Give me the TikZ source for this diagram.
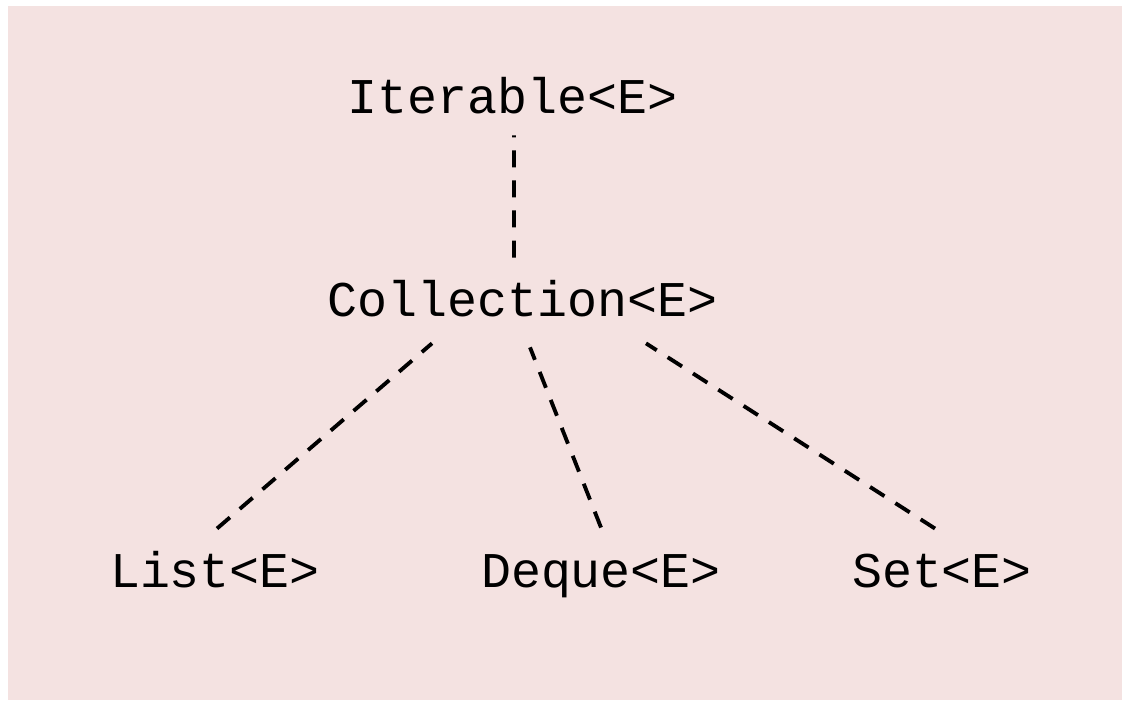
\documentclass[tikz,border=0pt]{standalone}
\usepackage{fontspec}
\setmonofont{Liberation Mono}
\usetikzlibrary{calc}
\definecolor{bgpink}{RGB}{244,226,225}
\begin{document}
\begin{tikzpicture}[x=0.02cm, y=-0.02cm,
		cls/.style = {anchor=base, inner sep=0pt, text height=16pt, text depth=0pt,
			font=\ttfamily\fontsize{28.45}{34}\selectfont},
		link/.style = {line width=2.2pt, dash pattern=on 9.7pt off 7.4pt}]
		\useasboundingbox (0,0) rectangle (1122,700);
		\fill[bgpink] (8,6) rectangle (1122,700);
		
		\node[cls] (it) at (512.5,113) {Iterable<E>};
		\node[cls] (col) at (522.5,316) {Collection<E>};
		
		\node[cls] (list) at (215,587) {List<E>};
		\node[cls] (deque) at (601,587) {Deque<E>};
		\node[cls] (set) at (942,587) {Set<E>};
		
		\draw[link] ($(col.north)+(-8.5,-30)$) -- ($(it.south)+(1.5,22)$);
		
		\draw[link] ($(list.north)+(2,-30)$) -- ($(col.south)+(-90.5,27)$);
		\draw[link] ($(deque.north)+(0,-31)$) -- ($(col.south)+(7.5,31)$);
		\draw[link] ($(set.north)+(-7,-30)$) -- ($(col.south)+(123.5,27)$);
		\end{tikzpicture}
\end{document}
